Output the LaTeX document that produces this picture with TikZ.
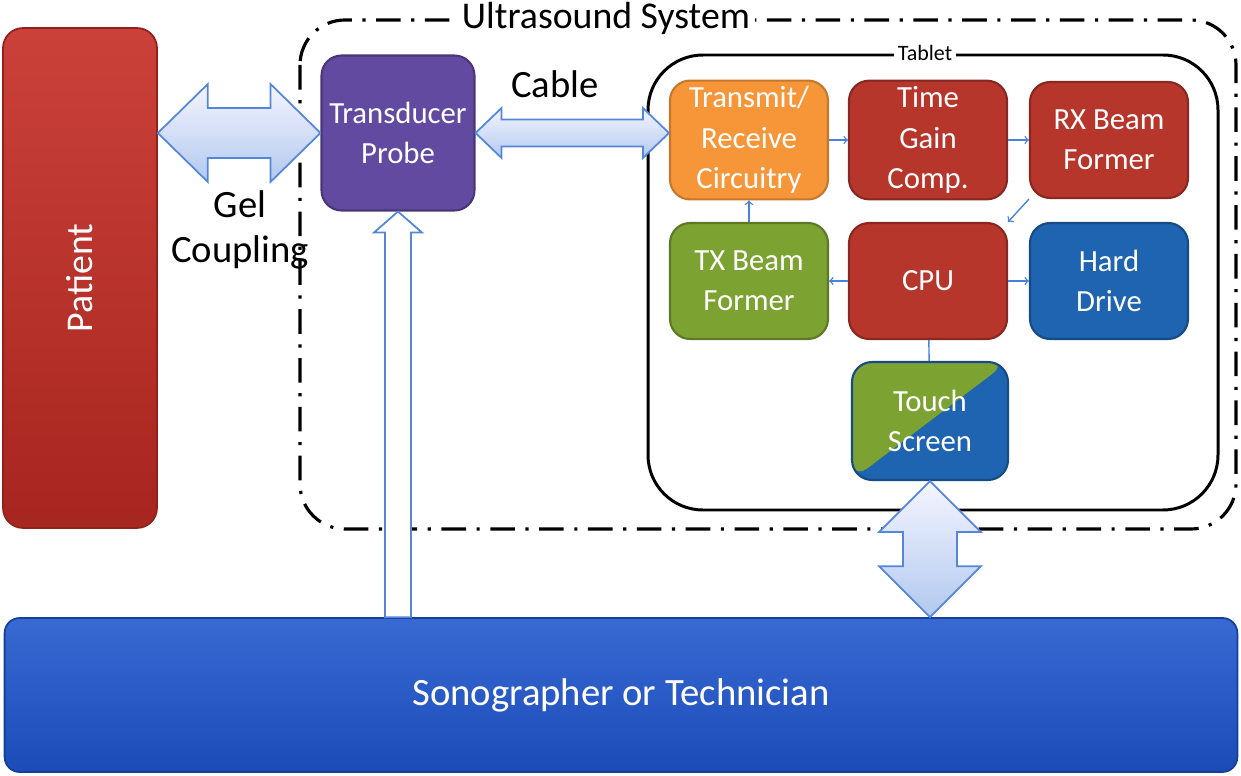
\documentclass[tikz,border=0pt]{standalone}
\usepackage{fontspec}
\setmainfont{Carlito}
\usepackage{xcolor}
\usetikzlibrary{arrows}
\usetikzlibrary{calc}

\definecolor{ptred}{RGB}{196,44,36}
\definecolor{boxred}{RGB}{182,54,44}
\definecolor{probepurple}{RGB}{98,74,160}
\definecolor{trorange}{RGB}{246,150,56}
\definecolor{txgreen}{RGB}{124,162,50}
\definecolor{hdblue}{RGB}{30,100,176}
\definecolor{sonoblue}{RGB}{30,84,204}
\definecolor{arrowedge}{RGB}{84,134,218}
\definecolor{linkblue}{RGB}{70,130,222}

\tikzset{
  box/.style={rounded corners=0.4cm,minimum width=3.16cm,minimum height=2.32cm,
    text=white,align=center,line width=1.2pt,font=\fontsize{17.5}{23}\selectfont},
  bigarrow/.style={draw=arrowedge,line width=1pt,top color=blue!4!white,bottom color=arrowedge!45!white},
  link/.style={linkblue,line width=0.8pt},
  sysline/.style={line width=1.8pt,dash pattern=on 14pt off 6pt on 1.8pt off 6pt,rounded corners=0.9cm}
}

\begin{document}
\begin{tikzpicture}[x=0.02cm,y=-0.02cm]
  \useasboundingbox (0,0) rectangle (1241,776);

  % frames
  \draw[sysline] (300,20) rectangle (1236,529);
  \node[fill=white,inner sep=3pt,font=\fontsize{21.5}{24}\selectfont] (systitle) at (606,18) {Ultrasound System};
  \draw[line width=1.7pt,rounded corners=1.1cm] (648,55) rectangle (1218,510);
  \node[fill=white,inner sep=2pt,font=\fontsize{12.5}{14}\selectfont] (tabtitle) at (925,53) {Tablet};

  % outside blocks
  \node[rounded corners=0.4cm,minimum width=3.08cm,minimum height=10cm,draw=ptred!75!black,line width=1pt,
    top color=ptred!90!white,bottom color=ptred!85!black] (patient) at (80,278) {};
  \node[rotate=90,text=white,font=\fontsize{21.5}{24}\selectfont] (patlabel) at (patient.center) {Patient};
  \node[rounded corners=0.3cm,minimum width=24.66cm,minimum height=3.08cm,draw=sonoblue!75!black,line width=1pt,
    top color=sonoblue!88!white,bottom color=sonoblue!90!black,text=white,
    font=\fontsize{22}{24}\selectfont] (sono) at (621,695) {Sonographer or Technician};

  % probe and tablet blocks
  \node[box,minimum width=3.06cm,minimum height=3.1cm,fill=probepurple,draw=probepurple!75!black] (probe) at (398,133) {Transducer\\Probe};
  \node[box,fill=trorange,draw=trorange!80!black] (tr) at (749,140) {Transmit/\\Receive\\Circuitry};
  \node[box,fill=boxred,draw=boxred!75!black] (tgc) at (928,140) {Time\\Gain\\Comp.};
  \node[box,fill=boxred,draw=boxred!75!black] (rx) at (1109,140) {RX Beam\\Former};
  \node[box,fill=txgreen,draw=txgreen!75!black] (tx) at (749,281) {TX Beam\\Former};
  \node[box,fill=boxred,draw=boxred!75!black] (cpu) at (928,281) {CPU};
  \node[box,fill=hdblue,draw=hdblue!75!black] (hd) at (1109,281) {Hard\\Drive};
  \node[box,minimum width=3.12cm,minimum height=2.36cm,fill=hdblue,draw=hdblue!75!black,
    path picture={\fill[txgreen] (path picture bounding box.south west) -- (path picture bounding box.north west)
      -- (path picture bounding box.north east) -- cycle;}] (touch) at (930,421) {Touch\\Screen};

  % links inside the tablet
  \draw[link,->] (tr) -- (tgc);
  \draw[link,->] (tgc) -- (rx);
  \draw[link,->] (rx.south west) -- (cpu.north east);
  \draw[link,->] (cpu) -- (tx);
  \draw[link,->] (cpu) -- (hd);
  \draw[link,->] (tx) -- (tr);
  \draw[link] (cpu) -- (touch);

  % big arrows
  \coordinate (gelL) at (patient.east |- probe.west);
  \draw[bigarrow] (gelL) -- ++(50,-49) -- ++(0,24) -- ($(probe.west)+(-50,-25)$) -- ++(0,-24) -- (probe.west)
    -- ++(-50,49) -- ++(0,-24) -- ($(gelL)+(50,25)$) -- ++(0,24) -- cycle;

  \coordinate (cabR) at (tr.west |- probe.east);
  \draw[bigarrow] (probe.east) -- ++(26,-25) -- ++(0,11.5) -- ($(cabR)+(-26,-13.5)$) -- ++(0,-11.5) -- (cabR)
    -- ++(-26,25) -- ++(0,-11.5) -- ($(probe.east)+(26,13.5)$) -- ++(0,11.5) -- cycle;

  \coordinate (probeB) at (probe.south |- sono.north);
  \draw[draw=arrowedge,line width=1pt,fill=white] (probe.south) -- ++(24,21) -- ++(-11,0) -- ($(probeB)+(13,0)$)
    -- ++(-26,0) -- ($(probe.south)+(-13,21)$) -- ++(-11,0) -- cycle;

  \coordinate (touchB) at (touch.south |- sono.north);
  \draw[bigarrow] (touch.south) -- ++(51,51) -- ++(-24,0) -- ($(touchB)+(27,-51)$) -- ++(24,0) -- (touchB)
    -- ++(-51,-51) -- ++(24,0) -- ($(touch.south)+(-27,51)$) -- ++(-24,0) -- cycle;

  % arrow labels
  \node[font=\fontsize{22}{24}\selectfont] (cablelbl) at (555,84) {Cable};
  \node[align=center,font=\fontsize{22}{26}\selectfont] (gellbl) at (240,230) {Gel\\Coupling};
\end{tikzpicture}
\end{document}
